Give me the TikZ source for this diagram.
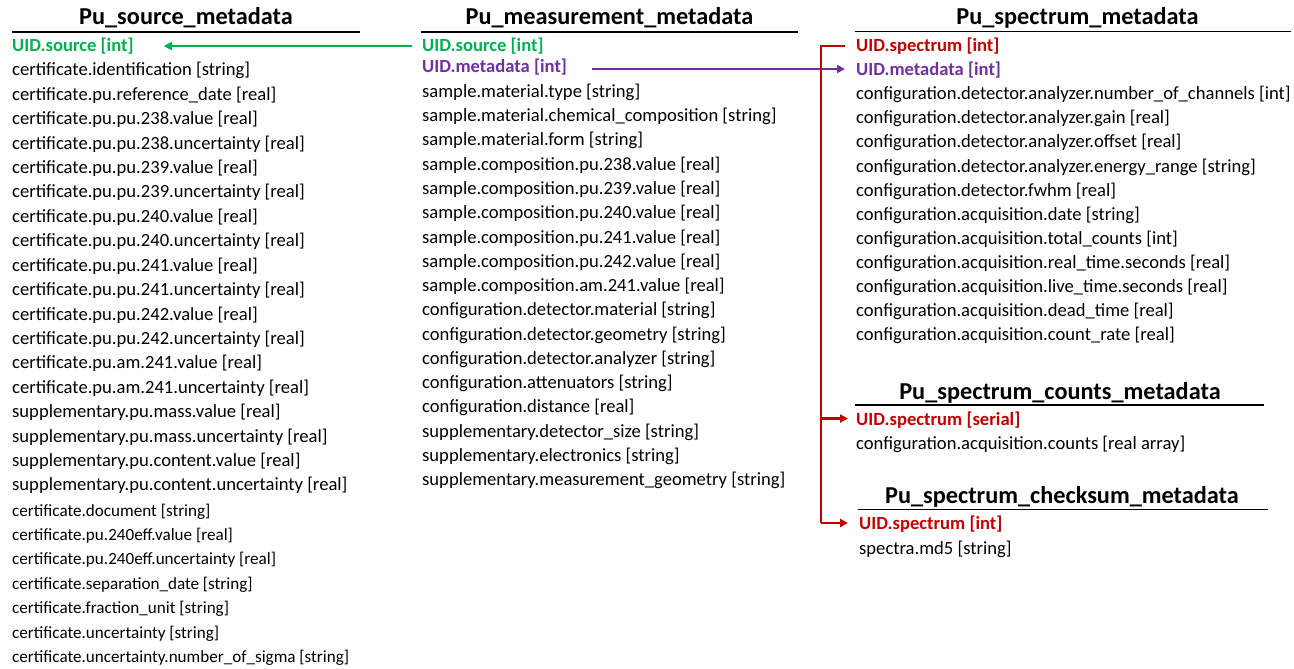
\documentclass[tikz,border=0pt]{standalone}
\usepackage{fontspec}
\setmainfont{Carlito}
\usetikzlibrary{arrows.meta}
\definecolor{keygreen}{HTML}{00B050}
\definecolor{keypurple}{HTML}{7030A0}
\definecolor{keyred}{HTML}{C00000}
\tikzset{
  field/.style={anchor=base west, inner sep=0pt, font=\fontsize{18.6}{22}\selectfont},
  smallfield/.style={field, font=\fontsize{17.1}{20}\selectfont},
  keyfield/.style={field, font=\fontsize{18.6}{22}\selectfont\bfseries},
  tabletitle/.style={anchor=base, inner sep=0pt, font=\fontsize{24.3}{29}\selectfont\bfseries},
  rule/.style={line width=1.2pt},
  link/.style={line width=2.4pt, -{Triangle[length=8pt,width=8pt]}},
  bus/.style={line width=2.4pt}
}
\begin{document}
\begin{tikzpicture}[x=1pt,y=-1pt]
\useasboundingbox (0,0) rectangle (1294,669);

% ---------------- Pu_source_metadata ----------------
\node[tabletitle] (st) at (186,25) {Pu\_source\_metadata};
\draw[rule] (12,32) -- (360,32);
\node[keyfield, text=keygreen] (s0) at (12,51.5) {UID.source [int]};
\foreach \txt [count=\i] in {
  {certificate.identification [string]},
  {certificate.pu.reference\_date [real]},
  {certificate.pu.pu.238.value [real]},
  {certificate.pu.pu.238.uncertainty [real]},
  {certificate.pu.pu.239.value [real]},
  {certificate.pu.pu.239.uncertainty [real]},
  {certificate.pu.pu.240.value [real]},
  {certificate.pu.pu.240.uncertainty [real]},
  {certificate.pu.pu.241.value [real]},
  {certificate.pu.pu.241.uncertainty [real]},
  {certificate.pu.pu.242.value [real]},
  {certificate.pu.pu.242.uncertainty [real]},
  {certificate.pu.am.241.value [real]},
  {certificate.pu.am.241.uncertainty [real]},
  {supplementary.pu.mass.value [real]},
  {supplementary.pu.mass.uncertainty [real]},
  {supplementary.pu.content.value [real]},
  {supplementary.pu.content.uncertainty [real]}}
  \node[field] (s\i) at (12,{51.5+24.41*\i}) {\txt};
\foreach \txt [count=\i from 19] in {
  {certificate.document [string]},
  {certificate.pu.240eff.value [real]},
  {certificate.pu.240eff.uncertainty [real]},
  {certificate.separation\_date [string]},
  {certificate.fraction\_unit [string]},
  {certificate.uncertainty [string]},
  {certificate.uncertainty.number\_of\_sigma [string]}}
  \node[smallfield] (s\i) at (12,{51.5+24.45*\i}) {\txt};

% ---------------- Pu_measurement_metadata ----------------
\node[tabletitle] (mt) at (609.5,25) {Pu\_measurement\_metadata};
\draw[rule] (421,32) -- (798,32);
\node[keyfield, text=keygreen] (m0) at (422,51.5) {UID.source [int]};
\node[keyfield, text=keypurple] (m1) at (422,73) {UID.metadata [int]};
\foreach \txt [count=\i from 2] in {
  {sample.material.type [string]},
  {sample.material.chemical\_composition [string]},
  {sample.material.form [string]},
  {sample.composition.pu.238.value [real]},
  {sample.composition.pu.239.value [real]},
  {sample.composition.pu.240.value [real]},
  {sample.composition.pu.241.value [real]},
  {sample.composition.pu.242.value [real]},
  {sample.composition.am.241.value [real]},
  {configuration.detector.material [string]},
  {configuration.detector.geometry [string]},
  {configuration.detector.analyzer [string]},
  {configuration.attenuators [string]},
  {configuration.distance [real]},
  {supplementary.detector\_size [string]},
  {supplementary.electronics [string]},
  {supplementary.measurement\_geometry [string]}}
  \node[field] (m\i) at (422,{97.5+24.25*(\i-2)}) {\txt};

% ---------------- Pu_spectrum_metadata ----------------
\node[tabletitle] (pt) at (1077.5,25) {Pu\_spectrum\_metadata};
\draw[rule] (855,31.5) -- (1291,31.5);
\node[keyfield, text=keyred] (p0) at (856,51.5) {UID.spectrum [int]};
\node[keyfield, text=keypurple] (p1) at (856,76) {UID.metadata [int]};
\foreach \txt [count=\i from 2] in {
  {configuration.detector.analyzer.number\_of\_channels [int]},
  {configuration.detector.analyzer.gain [real]},
  {configuration.detector.analyzer.offset [real]},
  {configuration.detector.analyzer.energy\_range [string]},
  {configuration.detector.fwhm [real]},
  {configuration.acquisition.date [string]},
  {configuration.acquisition.total\_counts [int]},
  {configuration.acquisition.real\_time.seconds [real]},
  {configuration.acquisition.live\_time.seconds [real]},
  {configuration.acquisition.dead\_time [real]},
  {configuration.acquisition.count\_rate [real]}}
  \node[field] (p\i) at (856,{51.5+24.1*\i}) {\txt};

% ---------------- Pu_spectrum_counts_metadata ----------------
\node[tabletitle] (ct) at (1060,399) {Pu\_spectrum\_counts\_metadata};
\draw[rule] (855,405) -- (1264,405);
\node[keyfield, text=keyred] (c0) at (856,425.5) {UID.spectrum [serial]};
\node[field] (c1) at (856,449.5) {configuration.acquisition.counts [real array]};

% ---------------- Pu_spectrum_checksum_metadata ----------------
\node[tabletitle] (kt) at (1062,503) {Pu\_spectrum\_checksum\_metadata};
\draw[rule] (858,509.5) -- (1268,509.5);
\node[keyfield, text=keyred] (k0) at (859,529.5) {UID.spectrum [int]};
\node[field] (k1) at (859,554) {spectra.md5 [string]};

% ---------------- key links ----------------
% (yshift acts on the page, upwards, so positive values raise the line)
\coordinate (srcout) at ([xshift=-10pt,yshift=5.5pt]m0.base west);
\coordinate (srcin)  at ([xshift=30pt,yshift=5.5pt]s0.base east);
\draw[link, keygreen] (srcout) -- (srcin);

\coordinate (metain) at ([xshift=-11pt,yshift=7pt]p1.base west);
\coordinate (m1r)    at ([xshift=25pt]m1.base east);
\draw[link, keypurple] (m1r |- metain) -- (metain);

\coordinate (busx)    at (821,0);
\coordinate (specout) at ([xshift=-11pt,yshift=5.5pt]p0.base west);
\coordinate (cntin)   at ([xshift=-8pt,yshift=7pt]c0.base west);
\coordinate (chkin)   at ([xshift=-11pt,yshift=6.5pt]k0.base west);
\draw[bus, keyred, line join=miter] (specout) -- (busx |- specout) -- (busx |- chkin);
\draw[link, keyred] (busx |- cntin) -- (cntin);
\draw[link, keyred] (busx |- chkin) -- (chkin);
\end{tikzpicture}
\end{document}
